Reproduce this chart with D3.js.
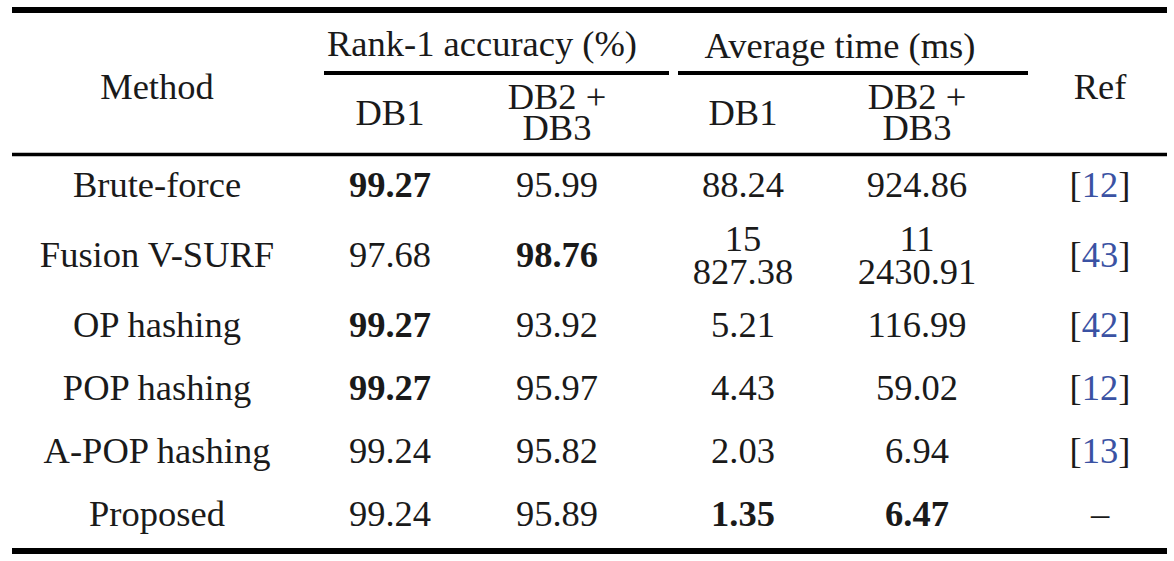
<!DOCTYPE html>
<html>
<head>
<meta charset="utf-8">
<script src="https://cdn.jsdelivr.net/npm/d3@7"></script>
<style>
  html, body { margin: 0; padding: 0; background: #fff; }
  svg { display: block; }
</style>
</head>
<body>
<svg id="tbl"></svg>
<script>
// table data
const methods = ["Brute-force", "Fusion V-SURF", "OP hashing", "POP hashing", "A-POP hashing", "Proposed"];
const accDB1 = ["99.27", "97.68", "99.27", "99.27", "99.24", "99.24"];
const accDB23 = ["95.99", "98.76", "93.92", "95.97", "95.82", "95.89"];
const timeDB1 = ["88.24", "15\n827.38", "5.21", "4.43", "2.03", "1.35"];
const timeDB23 = ["924.86", "11\n2430.91", "116.99", "59.02", "6.94", "6.47"];
const refs = ["12", "43", "42", "12", "13", ""];
// which cells are bold: [rowIndex, column key]
const boldCells = [[0, "accDB1"], [1, "accDB23"], [2, "accDB1"], [3, "accDB1"], [5, "timeDB1"], [5, "timeDB23"]];

const spanners = ["Rank-1 accuracy (%)", "Average time (ms)"];
const subHeads = ["DB1", "DB2 +\nDB3", "DB1", "DB2 +\nDB3"];

const width = 1174, height = 561;
const font = "'Liberation Serif', 'Times New Roman', serif";
const fontSize = 36.5;
const ink = "#1a1a1a";
const linkBlue = "#3a52a3";

const cols = ["method", "accDB1", "accDB23", "timeDB1", "timeDB23", "ref"];
const x = d3.scaleOrdinal().domain(cols).range([157, 390, 557, 743, 917, 1100]);

const svg = d3.select("#tbl")
  .attr("width", width)
  .attr("height", height)
  .attr("viewBox", [0, 0, width, height]);

const left = 12, right = 1167;

// rules
function rule(x1, x2, y, w) {
  svg.append("line")
    .attr("x1", x1).attr("x2", x2)
    .attr("y1", y).attr("y2", y)
    .attr("stroke", "#000")
    .attr("stroke-width", w);
}
rule(left, right, 10, 6);
rule(324, 669, 73, 4);
rule(678, 1028, 73, 4);
rule(left, right, 154.5, 3.5);
rule(left, right, 551, 6);

function multiText(cx, cy, str, opts = {}) {
  const lines = str.split("\n");
  const lh = opts.lh || 32;
  const t = svg.append("text")
    .attr("x", cx)
    .attr("text-anchor", "middle")
    .attr("font-family", font)
    .attr("font-size", fontSize)
    .attr("font-weight", opts.bold ? "bold" : "normal")
    .attr("fill", ink);
  lines.forEach((l, i) => {
    t.append("tspan")
      .attr("x", cx)
      .attr("y", cy + (i - (lines.length - 1) / 2) * lh)
      .attr("dy", "0.35em")
      .text(l);
  });
  return t;
}

// header
multiText(x("method"), 86, "Method");
multiText(x("ref"), 86, "Ref");
multiText(482, 43, spanners[0]);
multiText(840, 45, spanners[1]);
cols.slice(1, 5).forEach((c, i) => multiText(x(c), 112, subHeads[i], { lh: 31 }));

// body rows: height depends on number of lines in the row
const columns = { accDB1, accDB23, timeDB1, timeDB23 };
const rowH = methods.map((m, i) => {
  const n = d3.max(Object.values(columns), arr => arr[i].split("\n").length);
  return 63 + (n - 1) * 14;
});
let yTop = 155;
const rowCenters = rowH.map(h => { const c = yTop + h / 2; yTop += h; return c; });
const y = d3.scaleOrdinal().domain(d3.range(methods.length)).range(rowCenters);

const isBold = (i, c) => boldCells.some(([r, k]) => r === i && k === c);

methods.forEach((m, i) => {
  const cy = y(i) - 2;
  multiText(x("method"), cy, m);
  Object.keys(columns).forEach(c => {
    multiText(x(c), cy, columns[c][i], { bold: isBold(i, c), lh: 33 });
  });
  if (refs[i]) {
    const t = svg.append("text")
      .attr("x", x("ref"))
      .attr("y", cy)
      .attr("dy", "0.35em")
      .attr("text-anchor", "middle")
      .attr("font-family", font)
      .attr("font-size", fontSize)
      .attr("fill", ink);
    t.append("tspan").text("[");
    t.append("tspan").attr("fill", linkBlue).text(refs[i]);
    t.append("tspan").text("]");
  } else {
    multiText(x("ref"), cy, "\u2013");
  }
});
</script>
</body>
</html>
